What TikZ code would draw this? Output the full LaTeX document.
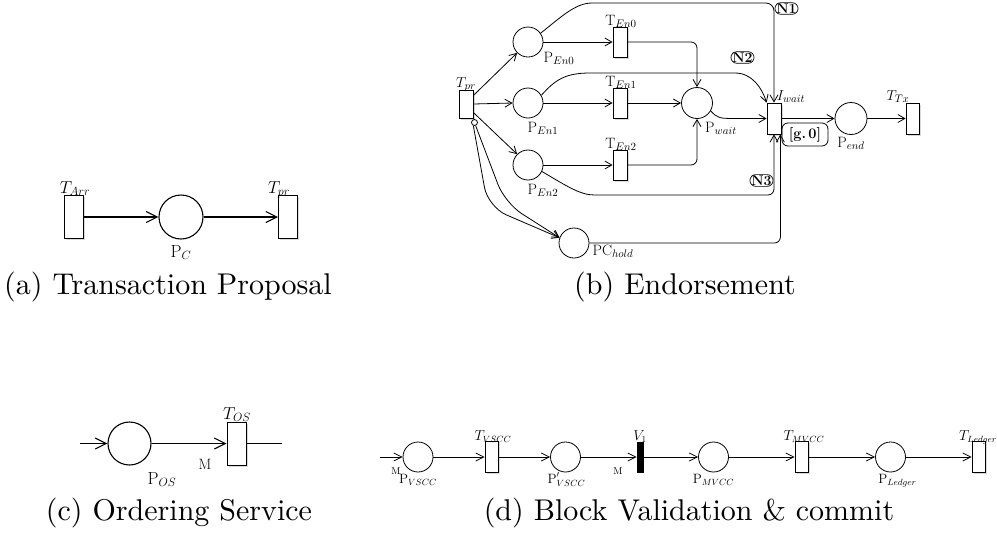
\documentclass[tikz,border=0pt]{standalone}
\usepackage{fontspec}
\newfontfamily\capfont{lmroman10-regular.otf}
\usetikzlibrary{arrows.meta,shadows}
\begin{document}
\begin{tikzpicture}[x=1pt,y=-1pt,
  place/.style={circle, draw, fill=white, inner sep=0pt},
  trans/.style={rectangle, draw, fill=white, inner sep=0pt,
    drop shadow={shadow xshift=1.5pt, shadow yshift=-1.5pt, opacity=0.15, fill=black}},
  bar/.style={rectangle, draw, fill=black, inner sep=0pt},
  lab/.style={inner sep=0pt, anchor=base},
  labA/.style={lab, font=\fontsize{17.5}{20}\selectfont},
  labB/.style={lab, font=\fontsize{15}{17}\selectfont},
  labD/.style={lab, font=\fontsize{13.5}{15}\selectfont},
  capt/.style={lab, font=\capfont\fontsize{30}{34}\selectfont},
  tag/.style={draw, rounded corners=6pt, inner xsep=1.5pt, inner ysep=1pt, fill=white, line width=0.7pt,
    font=\fontsize{14}{16}\selectfont\bfseries},
  arcA/.style={line width=1.1pt, -{Straight Barb[length=11pt,width=11pt]}},
  arcB/.style={line width=0.8pt, -{Straight Barb[length=7pt,width=8pt]}},
  arcD/.style={line width=0.8pt, -{Straight Barb[length=8pt,width=8pt]}},
  lnA/.style={line width=1.1pt},
]
\useasboundingbox (0,0) rectangle (997,539);

% ---------------- (a) Transaction Proposal
\node[trans, line width=1pt, minimum width=19pt, minimum height=43pt] (tarr) at (73.5,217) {};
\node[place, line width=1.1pt, minimum size=44pt] (pc) at (181,217) {};
\node[trans, line width=1pt, minimum width=19pt, minimum height=43pt] (tpra) at (288,217) {};
\draw[arcA] (tarr.east) -- (pc.west);
\draw[arcA] (pc.east) -- (tpra.west);
\node[labA] (ltarr) at (75,193) {$T_{Arr}$};
\node[labA] (lpc) at (181,257) {$\mathrm{P}_{C}$};
\node[labA] (ltpra) at (279,193) {$T_{pr}$};
\node[capt] (capa) at (168,294) {(a) Transaction Proposal};

% ---------------- (b) Endorsement
\node[trans, line width=0.8pt, minimum width=14pt, minimum height=28pt] (tprb) at (466,104) {};
\node[place, line width=0.8pt, minimum size=6pt] (inh) at (474.5,122.5) {};
\node[place, line width=0.8pt, minimum size=30pt] (pen0) at (528,42) {};
\node[place, line width=0.8pt, minimum size=30pt] (pen1) at (528,103) {};
\node[place, line width=0.8pt, minimum size=30pt] (pen2) at (528,165) {};
\node[trans, line width=0.8pt, minimum width=14pt, minimum height=30pt] (ten0) at (620,42) {};
\node[trans, line width=0.8pt, minimum width=14pt, minimum height=30pt] (ten1) at (620,103) {};
\node[trans, line width=0.8pt, minimum width=14pt, minimum height=30pt] (ten2) at (620,165) {};
\node[place, line width=0.8pt, minimum size=31pt] (pwait) at (697,103) {};
\node[place, line width=0.8pt, minimum size=30pt] (pchold) at (574,243) {};
\node[trans, line width=0.8pt, minimum width=14pt, minimum height=31pt] (iwait) at (774,118.5) {};
\node[place, line width=0.8pt, minimum size=32pt] (pend) at (851,118.5) {};
\node[trans, line width=0.8pt, minimum width=13pt, minimum height=31pt] (ttx) at (912.5,118.5) {};

\draw[arcB] (tprb.49) -- (pen0.225);
\draw[arcB] (tprb.east) -- (pen1.west);
\draw[arcB] (tprb.-49) -- (pen2.135);
\draw[arcB] (pen0.east) -- (ten0.west);
\draw[arcB] (pen1.east) -- (ten1.west);
\draw[arcB] (pen2.east) -- (ten2.west);
\draw[arcB, rounded corners=6pt] (ten0.east) -| (pwait.north);
\draw[arcB] (ten1.east) -- (pwait.west);
\draw[arcB, rounded corners=6pt] (ten2.east) -| (pwait.south);
\draw[arcB] (pwait.-30) .. controls (718,118.5) .. (740,118.5) -- (iwait.west);
\draw[arcB, rounded corners=8pt] (pen0.35) .. controls (560,18) and (575,3) .. (600,3) -| (iwait.north);
\draw[arcB] (pen1.30) .. controls (555,80) and (565,73) .. (590,73) -- (735,73) .. controls (752,73) and (762,88) .. (iwait.north west);
\draw[arcB, rounded corners=6pt] (pen2.-25) .. controls (565,185) and (580,195) .. (600,195) -| (iwait.south);
\draw[arcB, rounded corners=6pt] (pchold.east) -| ([xshift=-1pt]iwait.south east);
\draw[arcB, rounded corners=20pt] (inh.-110) -- (488,207) -- (pchold.160);
\draw[arcB, rounded corners=20pt] (inh.-70) -- (505,203) -- (pchold.160);
\draw[arcB] (iwait.east) -- (pend.west);
\draw[arcB] (pend.east) -- (ttx.west);

\node[tag] (n1) at (786.5,8.5) {N1};
\node[tag] (n2) at (742.5,57.5) {N2};
\node[tag] (n3) at (761.5,180.5) {N3};
\node[draw, rounded corners=6pt, line width=0.8pt, minimum width=46pt, minimum height=23pt, inner sep=0pt,
  font=\fontsize{14.5}{16}\selectfont\bfseries] (guard) at (805,134.5) {[g.\,0]};

\node[labB] (ltprb) at (466,87) {$T_{pr}$};
\node[labB] (lpen0) at (559,62) {$\mathrm{P}_{En0}$};
\node[labB] (lpen1) at (543,132) {$\mathrm{P}_{En1}$};
\node[labB] (lpen2) at (543,194) {$\mathrm{P}_{En2}$};
\node[labB] (lten0) at (621,25) {$\mathrm{T}_{En0}$};
\node[labB] (lten1) at (621,86) {$\mathrm{T}_{En1}$};
\node[labB] (lten2) at (621,148) {$\mathrm{T}_{En2}$};
\node[labB] (lpwait) at (721,132) {$\mathrm{P}_{wait}$};
\node[labB] (lpchold) at (613,255) {$\mathrm{PC}_{hold}$};
\node[labB] (liwait) at (791,100) {$I_{wait}$};
\node[labB] (lpend) at (851,147) {$\mathrm{P}_{end}$};
\node[labB] (lttx) at (898,100) {$T_{Tx}$};
\node[capt] (capb) at (685,294) {(b) Endorsement};

% ---------------- (c) Ordering Service
\coordinate (cin) at (80,443.5);
\node[place, line width=1.1pt, minimum size=43pt] (pos) at (129.5,443.5) {};
\node[trans, line width=1pt, minimum width=19pt, minimum height=43pt] (tos) at (236.5,443.5) {};
\coordinate (cout) at (282,443.5);
\draw[arcA] (cin) -- (pos.west);
\draw[arcA] (pos.east) -- (tos.west);
\draw[lnA] (tos.east) -- (cout);
\node[labA] (ltos) at (237,419) {$T_{OS}$};
\node[labA] (lpos) at (162,484) {$\mathrm{P}_{OS}$};
\node[labB] (lmc) at (205,469) {M};
\node[capt] (capc) at (179,520) {(c) Ordering Service};

% ---------------- (d) Block Validation & commit
\coordinate (din) at (380,457);
\node[place, line width=0.8pt, minimum size=30pt] (pvscc) at (418,457) {};
\node[trans, line width=0.8pt, minimum width=13pt, minimum height=31pt] (tvscc) at (491.5,457) {};
\node[place, line width=0.8pt, minimum size=30pt] (pvscc2) at (565.5,457) {};
\node[bar, line width=0.6pt, minimum width=6pt, minimum height=30pt] (v1) at (640,457) {};
\node[place, line width=0.8pt, minimum size=30pt] (pmvcc) at (713.5,457) {};
\node[trans, line width=0.8pt, minimum width=13pt, minimum height=31pt] (tmvcc) at (801.5,457) {};
\node[place, line width=0.8pt, minimum size=30pt] (pledger) at (890.5,457) {};
\node[trans, line width=0.8pt, minimum width=13pt, minimum height=31pt] (tledger) at (978.5,457) {};
\draw[arcD] (din) -- (pvscc.west);
\draw[arcD] (pvscc.east) -- (tvscc.west);
\draw[arcD] (tvscc.east) -- (pvscc2.west);
\draw[arcD] (pvscc2.east) -- (v1.west);
\draw[arcD] (v1.east) -- (pmvcc.west);
\draw[arcD] (pmvcc.east) -- (tmvcc.west);
\draw[arcD] (tmvcc.east) -- (pledger.west);
\draw[arcD] (pledger.east) -- (tledger.west);
\node[labD] (lmd1) at (396,474) {\fontsize{10}{12}\selectfont M};
\node[labD] (lmd2) at (618,474) {\fontsize{10}{12}\selectfont M};
\node[labD] (lpvscc) at (418,483) {$\mathrm{P}_{VSCC}$};
\node[labD] (lpvscc2) at (566.5,483) {$\mathrm{P}'_{VSCC}$};
\node[labD] (lpmvcc) at (713.5,483) {$\mathrm{P}_{MVCC}$};
\node[labD] (lpledger) at (897.5,483) {$\mathrm{P}_{Ledger}$};
\node[labD] (ltvscc) at (493,440) {$T_{VSCC}$};
\node[labD] (lv1) at (640,440) {$V_1$};
\node[labD] (ltmvcc) at (804,440) {$T_{MVCC}$};
\node[labD] (ltledger) at (978,440) {$T_{Ledger}$};
\node[capt] (capd) at (689,520) {(d) Block Validation \& commit};
\end{tikzpicture}
\end{document}
